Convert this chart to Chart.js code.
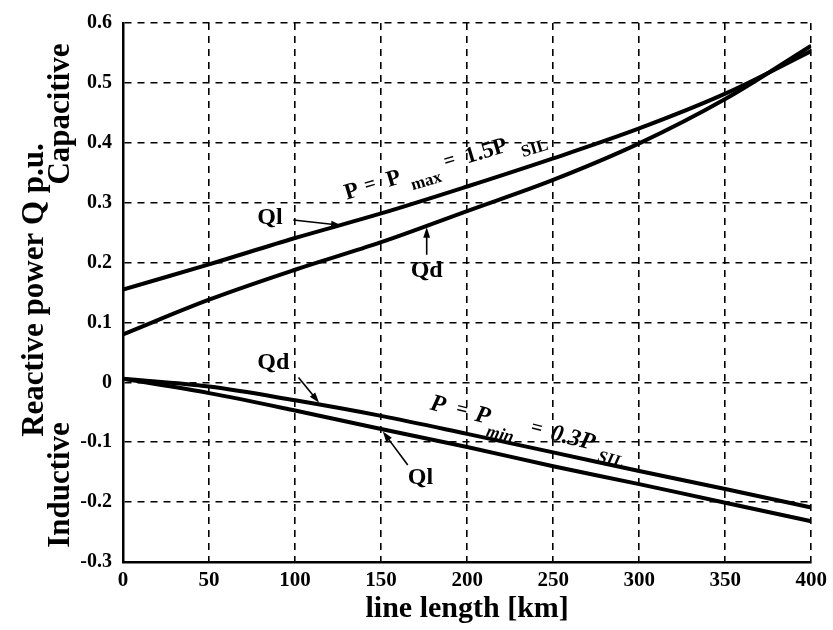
<!DOCTYPE html>
<html>
<head>
<meta charset="utf-8">
<script src="https://cdn.jsdelivr.net/npm/chart.js@4.4.0/dist/chart.umd.min.js"></script>
<style>
  html, body { margin: 0; padding: 0; background: #fff; }
  #wrap { width: 833px; height: 630px; }
</style>
</head>
<body>
<div id="wrap"><canvas id="qChart" width="833" height="630"></canvas></div>
<script>
// line length [km]
const lineLength = [0, 50, 100, 150, 200, 250, 300, 350, 400];

// P = Pmax = 1.5 P_SIL (capacitive side)
const qlMax = [0.155, 0.197, 0.241, 0.282, 0.327, 0.374, 0.424, 0.482, 0.553];
const qdMax = [0.080, 0.138, 0.188, 0.234, 0.286, 0.338, 0.399, 0.473, 0.562];

// P = Pmin = 0.3 P_SIL (inductive side)
const qdMin = [0.006, -0.007, -0.030, -0.056, -0.086, -0.117, -0.148, -0.178, -0.209];
const qlMin = [0.006, -0.018, -0.047, -0.078, -0.108, -0.140, -0.170, -0.201, -0.232];

const xTicks = [0, 50, 100, 150, 200, 250, 300, 350, 400];
const yTicks = [-0.3, -0.2, -0.1, 0, 0.1, 0.2, 0.3, 0.4, 0.5, 0.6];

const serif = "'Liberation Serif', 'DejaVu Serif', serif";

function toPoints(values) {
  return lineLength.map((len, i) => ({ x: len, y: values[i] }));
}

function curve(label, values) {
  return {
    label: label,
    data: toPoints(values),
    borderColor: "#000",
    borderWidth: 4,
    pointRadius: 0,
    fill: false,
    tension: 0.35,
  };
}

function arrow(ctx, x1, y1, x2, y2) {
  const ang = Math.atan2(y2 - y1, x2 - x1);
  const head = 11;
  ctx.beginPath();
  ctx.moveTo(x1, y1);
  ctx.lineTo(x2 - Math.cos(ang) * head * 0.7, y2 - Math.sin(ang) * head * 0.7);
  ctx.lineWidth = 1.6;
  ctx.stroke();
  ctx.beginPath();
  ctx.moveTo(x2, y2);
  ctx.lineTo(x2 - head * Math.cos(ang - 0.32), y2 - head * Math.sin(ang - 0.32));
  ctx.lineTo(x2 - head * Math.cos(ang + 0.32), y2 - head * Math.sin(ang + 0.32));
  ctx.closePath();
  ctx.fill();
}

// draws a list of text runs along a rotated baseline
function runs(ctx, ox, oy, angleDeg, parts, style) {
  ctx.save();
  ctx.translate(ox, oy);
  ctx.rotate(angleDeg * Math.PI / 180);
  ctx.textAlign = "left";
  ctx.textBaseline = "alphabetic";
  parts.forEach(([text, along, drop, size]) => {
    ctx.font = style + " bold " + size + "px " + serif;
    ctx.fillText(text, along, drop);
  });
  ctx.restore();
}

const curveLabels = {
  id: "curveLabels",
  afterDraw(chart) {
    const { ctx } = chart;
    const x = chart.scales.x;
    const y = chart.scales.y;
    const px = (v) => x.getPixelForValue(v);
    const py = (v) => y.getPixelForValue(v);

    ctx.save();
    ctx.fillStyle = "#000";
    ctx.strokeStyle = "#000";

    // axis titles on the left
    ctx.font = "bold 31px " + serif;
    ctx.textAlign = "center";
    ctx.textBaseline = "alphabetic";
    [["Reactive power Q p.u.", 43, 290], ["Capacitive", 69, 114], ["Inductive", 69, 485]]
      .forEach(([t, bx, cy]) => {
        ctx.save();
        ctx.translate(bx, cy);
        ctx.rotate(-Math.PI / 2);
        ctx.fillText(t, 0, 0);
        ctx.restore();
      });

    // Ql / Qd tags
    ctx.font = "bold 24px " + serif;
    ctx.textAlign = "left";
    ctx.textBaseline = "middle";
    ctx.fillText("Ql", px(78), py(0.274));
    arrow(ctx, px(99), py(0.271), px(127), py(0.262));
    ctx.textAlign = "center";
    ctx.fillText("Qd", px(176.5), py(0.187));
    arrow(ctx, px(176.5), py(0.213), px(176.5), py(0.259));
    ctx.textAlign = "left";
    ctx.fillText("Qd", px(78), py(0.033));
    arrow(ctx, px(102), py(0.008), px(114), py(-0.034));
    ctx.fillText("Ql", px(165.5), py(-0.159));
    arrow(ctx, px(165.5), py(-0.138), px(151), py(-0.082));

    // operating-point notes
    runs(ctx, px(130), py(0.305), -16.7, [
      ["P", 0, 0, 23], ["=", 21, -2, 20], ["P", 44, 0, 23], ["max", 66, 10, 17],
      ["=", 104, -2, 20], ["1.5P", 126, 0, 23], ["SIL", 181, 10, 17],
    ], "normal");
    runs(ctx, px(178), py(-0.045), 14, [
      ["P", 0, 0, 24], ["=", 26, -2, 20], ["P", 46, 0, 24], ["min", 61, 12, 17],
      ["=", 103, -2, 20], ["0.3P", 124, 0, 24], ["SIL", 175, 10, 17],
    ], "italic");

    ctx.restore();
  },
};

new Chart(document.getElementById("qChart").getContext("2d"), {
  type: "line",
  data: {
    datasets: [
      curve("Ql (Pmax)", qlMax),
      curve("Qd (Pmax)", qdMax),
      curve("Qd (Pmin)", qdMin),
      curve("Ql (Pmin)", qlMin),
    ],
  },
  options: {
    responsive: false,
    animation: false,
    layout: { padding: { left: 0, top: 18, right: 17, bottom: 0 } },
    plugins: {
      legend: { display: false },
      tooltip: { enabled: false },
    },
    scales: {
      x: {
        type: "linear",
        min: 0,
        max: 400,
        afterBuildTicks: (s) => { s.ticks = xTicks.map((v) => ({ value: v })); },
        afterFit: (s) => { s.height = 68; },
        grid: { color: "#000", lineWidth: 1.6, drawTicks: false },
        border: { display: true, color: "#000", width: 2.5, dash: [7, 6] },
        ticks: {
          color: "#000",
          padding: 6,
          maxRotation: 0,
          font: { family: serif, size: 21, weight: "bold" },
        },
        title: {
          display: true,
          text: "line length [km]",
          color: "#000",
          padding: { top: 0, bottom: 3 },
          font: { family: serif, size: 30, weight: "bold", lineHeight: 1.2 },
        },
      },
      y: {
        type: "linear",
        min: -0.3,
        max: 0.6,
        afterBuildTicks: (s) => { s.ticks = yTicks.map((v) => ({ value: v })); },
        afterFit: (s) => { s.width = 123; },
        grid: { color: "#000", lineWidth: 1.6, drawTicks: false },
        border: { display: true, color: "#000", width: 2.5, dash: [7, 6] },
        ticks: {
          color: "#000",
          padding: 11,
          font: { family: serif, size: 20, weight: "bold" },
          callback: (v) => (Math.abs(v) < 1e-9 ? "0" : v.toFixed(1)),
        },
      },
    },
  },
  plugins: [curveLabels],
});
</script>
</body>
</html>
